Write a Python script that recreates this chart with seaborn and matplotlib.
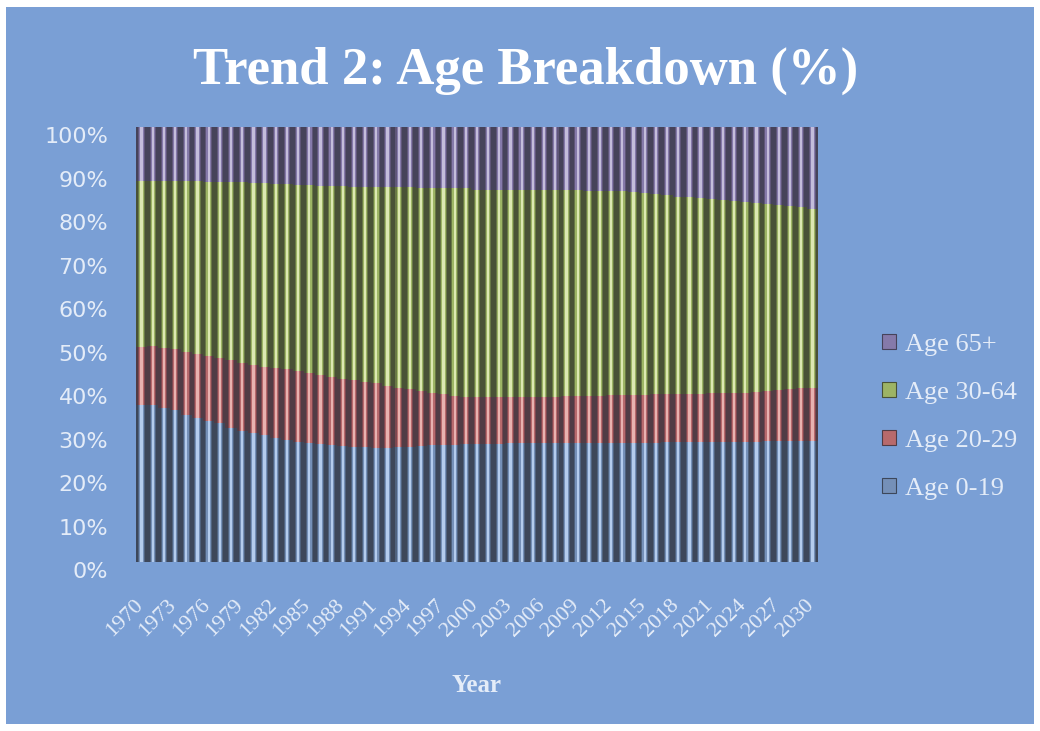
import matplotlib
matplotlib.use("Agg")
import matplotlib.pyplot as plt
import numpy as np
import pandas as pd
import seaborn as sns
from matplotlib.patches import Patch, Rectangle
from matplotlib.transforms import ScaledTranslation

# ---- data -------------------------------------------------------------
years = list(range(1970, 2031))

age_0_19 = [36.1, 36.0, 35.4, 35.0, 33.8, 33.0, 32.5, 32.0, 30.9, 30.2,
            29.7, 29.2, 28.6, 28.0, 27.7, 27.4, 27.1, 26.9, 26.7, 26.5,
            26.4, 26.3, 26.3, 26.4, 26.5, 26.7, 26.8, 26.9, 27.0, 27.1,
            27.1, 27.2, 27.2, 27.3, 27.3, 27.3, 27.3, 27.3, 27.3, 27.3,
            27.3, 27.3, 27.3, 27.3, 27.4, 27.4, 27.4, 27.5, 27.5, 27.5,
            27.6, 27.6, 27.6, 27.7, 27.7, 27.7, 27.8, 27.8, 27.8, 27.9,
            27.9]

age_20_29 = [13.4, 13.6, 13.9, 13.9, 14.5, 14.8, 14.9, 15.0, 15.5, 15.6,
             15.6, 15.7, 16.1, 16.4, 16.3, 16.1, 15.9, 15.6, 15.4, 15.3,
             15.0, 14.8, 14.2, 13.7, 13.2, 12.7, 12.1, 11.7, 11.2, 10.9,
             10.9, 10.7, 10.7, 10.6, 10.6, 10.6, 10.7, 10.7, 10.8, 10.8,
             10.9, 10.9, 11.0, 11.0, 11.0, 11.1, 11.2, 11.1, 11.2, 11.2,
             11.1, 11.2, 11.2, 11.1, 11.2, 11.3, 11.4, 11.7, 11.9, 12.0,
             12.1]

age_30_64 = [38.1, 38.0, 38.3, 38.6, 39.2, 39.7, 40.0, 40.4, 41.0, 41.5,
             41.9, 42.2, 42.3, 42.5, 42.7, 43.1, 43.5, 43.9, 44.3, 44.5,
             44.9, 45.1, 45.7, 46.0, 46.4, 46.6, 47.1, 47.3, 47.7, 47.9,
             47.6, 47.6, 47.6, 47.6, 47.6, 47.6, 47.5, 47.5, 47.4, 47.4,
             47.2, 47.2, 47.1, 46.9, 46.6, 46.3, 45.9, 45.7, 45.3, 45.1,
             44.9, 44.6, 44.4, 44.2, 43.9, 43.6, 43.1, 42.6, 42.1, 41.6,
             41.1]

age_65_plus = [12.4, 12.4, 12.4, 12.5, 12.5, 12.5, 12.6, 12.6, 12.6, 12.7,
               12.8, 12.9, 13.0, 13.1, 13.3, 13.4, 13.5, 13.6, 13.6, 13.7,
               13.7, 13.8, 13.8, 13.9, 13.9, 14.0, 14.0, 14.1, 14.1, 14.1,
               14.4, 14.5, 14.5, 14.5, 14.5, 14.5, 14.5, 14.5, 14.5, 14.5,
               14.6, 14.6, 14.6, 14.8, 15.0, 15.2, 15.5, 15.7, 16.0, 16.2,
               16.4, 16.6, 16.8, 17.0, 17.2, 17.4, 17.7, 17.9, 18.2, 18.5,
               18.9]

series_names = ["Age 0-19", "Age 20-29", "Age 30-64", "Age 65+"]
tick_years = years[::3]
y_ticks = list(range(0, 101, 10))

# ---- styling ----------------------------------------------------------
panel_blue = "#7a9fd5"
text_light = "#e4ecf8"
serif = "Liberation Serif"
# shades per series: dark edge -> highlight (cylinder-like shading)
shades = {
    "Age 0-19":  ["#3d475a", "#4f627e", "#7590b8", "#b4cced"],
    "Age 20-29": ["#513c45", "#7c4750", "#b86a6c", "#e8b2b0"],
    "Age 30-64": ["#495236", "#687845", "#9db465", "#dce8b2"],
    "Age 65+":   ["#46435a", "#5f5679", "#857aaa", "#c4bddb"],
}
widths = [1.0, 0.58, 0.40, 0.2]

# ---- frame ------------------------------------------------------------
sns.set_theme(style="white")
plt.rcParams["font.family"] = [serif, "DejaVu Serif"]
plt.rcParams["xtick.labelsize"] = 16
plt.rcParams["xtick.color"] = text_light
plt.rcParams["ytick.color"] = text_light

fig = plt.figure(figsize=(10.4, 7.31), dpi=100, facecolor="white")
fig.patches.append(Rectangle((6 / 1040, 1 - 724 / 731), 1028 / 1040, 717 / 731,
                             transform=fig.transFigure, facecolor=panel_blue,
                             edgecolor="none", zorder=-10))

ax = fig.add_axes([136 / 1040, 1 - 562 / 731, 682 / 1040, 435 / 731])
ax.set_facecolor("none")
ax.set_zorder(1)

df = pd.DataFrame({
    "year": [str(y) for y in years],
    "Age 0-19": age_0_19,
    "Age 20-29": age_20_29,
    "Age 30-64": age_30_64,
    "Age 65+": age_65_plus,
})
totals = df[series_names].sum(axis=1)
shares = df[series_names].div(totals, axis=0) * 100
cum = shares.cumsum(axis=1)

# draw tallest cumulative layer first so lower groups sit in front
for name in reversed(series_names):
    for w, c in zip(widths, shades[name]):
        sns.barplot(x=df["year"], y=cum[name], color=c, width=w,
                    saturation=1, linewidth=0, edgecolor="none",
                    ax=ax, order=list(df["year"]))

ax.set_ylim(0, 100)
ax.set_xlim(-0.5, len(years) - 0.5)
for s in ax.spines.values():
    s.set_visible(False)

ax.tick_params(axis="y", length=0, pad=20)
ax.tick_params(axis="x", length=0, pad=24)

ax.set_yticks(y_ticks)
ax.set_yticklabels([f"{v}%" for v in y_ticks])
ax.set_xticks([years.index(y) for y in tick_years])
ax.set_xticklabels([str(y) for y in tick_years], rotation=45, ha="right",
                   rotation_mode="anchor", family=serif, fontsize=16,
                   color=text_light)

y_shift = ScaledTranslation(0, -6 / 72, fig.dpi_scale_trans)
for lab in ax.get_yticklabels():
    lab.set_fontfamily("DejaVu Sans")
    lab.set_fontsize(16)
    lab.set_color(text_light)
    lab.set_transform(lab.get_transform() + y_shift)
x_shift = ScaledTranslation(-6 / 72, 0, fig.dpi_scale_trans)
for lab in ax.get_xticklabels():
    lab.set_transform(lab.get_transform() + x_shift)

ax.set_xlabel("Year", fontsize=18, fontweight="bold", family=serif,
              color=text_light, labelpad=24)
ax.set_ylabel("")

fig.text(0.505, 0.903, "Trend 2: Age Breakdown (%)", ha="center", va="center",
         fontsize=38, fontweight="bold", family=serif, color="white")

handles = [Patch(facecolor=shades[n][2], edgecolor=shades[n][0], linewidth=0.8)
           for n in reversed(series_names)]
leg = fig.legend(handles, list(reversed(series_names)), loc="center left",
                 bbox_to_anchor=(882 / 1040, 1 - 417 / 731), frameon=False,
                 borderaxespad=0, borderpad=0,
                 handlelength=0.52, handleheight=0.52,
                 handletextpad=0.35, labelspacing=0.98,
                 prop={"family": serif, "size": 19})
for t in leg.get_texts():
    t.set_color(text_light)

fig.savefig("out.png", dpi=100, facecolor=fig.get_facecolor())
